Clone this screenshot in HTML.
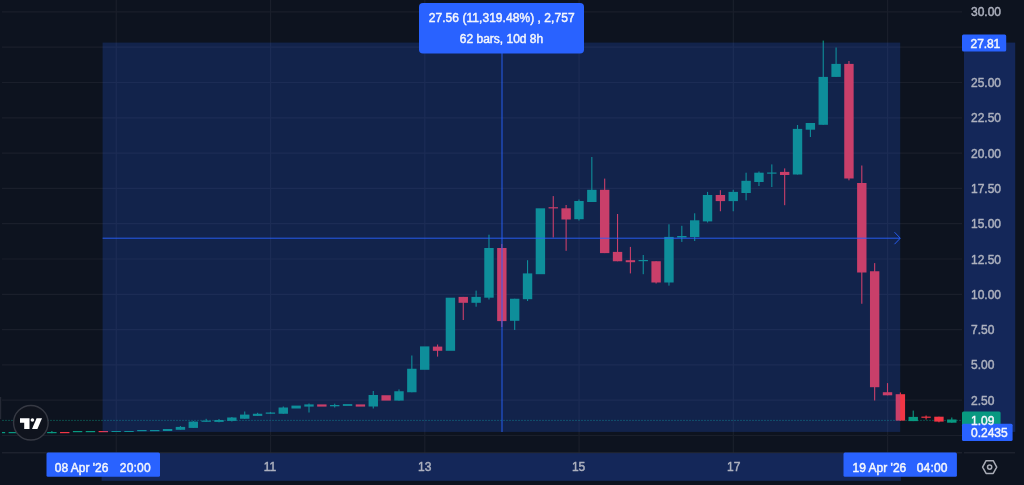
<!DOCTYPE html>
<html lang="en">
<head>
<meta charset="utf-8">
<title>Chart</title>
<style>
html,body{margin:0;padding:0;background:#0d131f;}
body{width:1024px;height:485px;overflow:hidden;position:relative;font-family:"Liberation Sans",sans-serif;}
</style>
</head>
<body>
<svg width="1024" height="485" viewBox="0 0 1024 485" style="position:absolute;left:0;top:0;filter:blur(0.45px)">
<rect width="1024" height="485" fill="#0d131f"/>
<g stroke="#1a1f2b" stroke-width="1.2">
<line x1="2" y1="11.90" x2="962" y2="11.90"/>
<line x1="2" y1="47.20" x2="962" y2="47.20"/>
<line x1="2" y1="82.50" x2="962" y2="82.50"/>
<line x1="2" y1="117.80" x2="962" y2="117.80"/>
<line x1="2" y1="153.10" x2="962" y2="153.10"/>
<line x1="2" y1="188.40" x2="962" y2="188.40"/>
<line x1="2" y1="223.70" x2="962" y2="223.70"/>
<line x1="2" y1="259.00" x2="962" y2="259.00"/>
<line x1="2" y1="294.30" x2="962" y2="294.30"/>
<line x1="2" y1="329.60" x2="962" y2="329.60"/>
<line x1="2" y1="364.90" x2="962" y2="364.90"/>
<line x1="2" y1="400.20" x2="962" y2="400.20"/>
<line x1="2" y1="435.50" x2="962" y2="435.50"/>
<line x1="116.26" y1="0" x2="116.26" y2="453"/>
<line x1="270.53" y1="0" x2="270.53" y2="453"/>
<line x1="424.80" y1="0" x2="424.80" y2="453"/>
<line x1="579.07" y1="0" x2="579.07" y2="453"/>
<line x1="733.34" y1="0" x2="733.34" y2="453"/>
<line x1="887.62" y1="0" x2="887.62" y2="453"/>
</g>
<rect x="0" y="397" width="1.2" height="22" fill="#252935"/>
<line x1="2.5" y1="420.4" x2="962" y2="420.4" stroke="#089981" stroke-width="1" stroke-dasharray="1 2" stroke-opacity="0.85"/>
<clipPath id="cl"><rect x="2" y="0" width="961" height="453"/></clipPath>
<g clip-path="url(#cl)">
<rect x="-4.25" y="432.00" width="9.4" height="1.20" fill="#089981"/>
<rect x="8.61" y="432.00" width="9.4" height="1.20" fill="#089981"/>
<rect x="21.46" y="432.00" width="9.4" height="1.20" fill="#089981"/>
<rect x="34.32" y="432.00" width="9.4" height="1.20" fill="#089981"/>
<rect x="51.33" y="431.00" width="1.1" height="2.20" fill="#089981"/>
<rect x="47.18" y="432.00" width="9.4" height="1.20" fill="#089981"/>
<rect x="60.03" y="432.00" width="9.4" height="1.20" fill="#f23645"/>
<rect x="72.89" y="431.00" width="9.4" height="1.20" fill="#089981"/>
<rect x="85.74" y="431.00" width="9.4" height="1.20" fill="#089981"/>
<rect x="98.60" y="431.00" width="9.4" height="1.20" fill="#f23645"/>
<rect x="111.46" y="431.00" width="9.4" height="1.00" fill="#089981"/>
<rect x="124.31" y="431.00" width="9.4" height="1.00" fill="#089981"/>
<rect x="137.17" y="430.00" width="9.4" height="1.20" fill="#089981"/>
<rect x="150.02" y="430.00" width="9.4" height="1.20" fill="#089981"/>
<rect x="162.88" y="429.00" width="9.4" height="2.00" fill="#089981"/>
<rect x="179.89" y="426.00" width="1.1" height="3.80" fill="#089981"/>
<rect x="175.74" y="426.90" width="9.4" height="2.90" fill="#089981"/>
<rect x="192.74" y="421.00" width="1.1" height="6.90" fill="#089981"/>
<rect x="188.59" y="421.60" width="9.4" height="6.30" fill="#089981"/>
<rect x="205.60" y="418.80" width="1.1" height="3.00" fill="#089981"/>
<rect x="201.45" y="420.60" width="9.4" height="1.20" fill="#089981"/>
<rect x="218.45" y="419.00" width="1.1" height="3.30" fill="#089981"/>
<rect x="214.30" y="420.00" width="9.4" height="1.90" fill="#089981"/>
<rect x="231.31" y="417.00" width="1.1" height="4.50" fill="#089981"/>
<rect x="227.16" y="417.50" width="9.4" height="3.40" fill="#089981"/>
<rect x="244.17" y="411.50" width="1.1" height="7.25" fill="#089981"/>
<rect x="240.02" y="414.60" width="9.4" height="4.15" fill="#089981"/>
<rect x="257.02" y="412.80" width="1.1" height="3.10" fill="#089981"/>
<rect x="252.87" y="413.75" width="9.4" height="2.15" fill="#089981"/>
<rect x="269.88" y="411.90" width="1.1" height="1.85" fill="#089981"/>
<rect x="265.73" y="412.50" width="9.4" height="1.25" fill="#089981"/>
<rect x="282.73" y="406.50" width="1.1" height="7.25" fill="#089981"/>
<rect x="278.58" y="407.50" width="9.4" height="6.25" fill="#089981"/>
<rect x="291.44" y="405.60" width="9.4" height="2.90" fill="#089981"/>
<rect x="308.45" y="403.50" width="1.1" height="9.00" fill="#089981"/>
<rect x="304.30" y="404.40" width="9.4" height="2.20" fill="#089981"/>
<rect x="317.15" y="404.40" width="9.4" height="2.20" fill="#f23645"/>
<rect x="334.16" y="403.70" width="1.1" height="3.80" fill="#089981"/>
<rect x="330.01" y="405.00" width="9.4" height="1.30" fill="#089981"/>
<rect x="342.86" y="404.10" width="9.4" height="1.80" fill="#089981"/>
<rect x="355.72" y="404.40" width="9.4" height="2.20" fill="#f23645"/>
<rect x="372.73" y="391.00" width="1.1" height="17.50" fill="#089981"/>
<rect x="368.58" y="395.00" width="9.4" height="11.50" fill="#089981"/>
<rect x="381.43" y="395.25" width="9.4" height="5.35" fill="#f23645"/>
<rect x="398.44" y="389.40" width="1.1" height="11.20" fill="#089981"/>
<rect x="394.29" y="391.25" width="9.4" height="9.35" fill="#089981"/>
<rect x="411.29" y="355.50" width="1.1" height="36.75" fill="#089981"/>
<rect x="407.14" y="368.75" width="9.4" height="23.50" fill="#089981"/>
<rect x="420.00" y="346.40" width="9.4" height="23.40" fill="#089981"/>
<rect x="437.01" y="344.50" width="1.1" height="12.10" fill="#f23645"/>
<rect x="432.86" y="346.60" width="9.4" height="4.20" fill="#f23645"/>
<rect x="445.71" y="297.70" width="9.4" height="53.10" fill="#089981"/>
<rect x="462.72" y="296.90" width="1.1" height="23.10" fill="#f23645"/>
<rect x="458.57" y="296.90" width="9.4" height="5.90" fill="#f23645"/>
<rect x="475.57" y="290.60" width="1.1" height="16.10" fill="#089981"/>
<rect x="471.42" y="296.90" width="9.4" height="5.90" fill="#089981"/>
<rect x="488.43" y="234.70" width="1.1" height="64.80" fill="#089981"/>
<rect x="484.28" y="248.00" width="9.4" height="49.70" fill="#089981"/>
<rect x="501.29" y="244.00" width="1.1" height="83.00" fill="#f23645"/>
<rect x="497.14" y="248.00" width="9.4" height="73.10" fill="#f23645"/>
<rect x="514.14" y="298.75" width="1.1" height="31.25" fill="#089981"/>
<rect x="509.99" y="298.75" width="9.4" height="22.05" fill="#089981"/>
<rect x="527.00" y="260.20" width="1.1" height="40.80" fill="#089981"/>
<rect x="522.85" y="273.40" width="9.4" height="25.80" fill="#089981"/>
<rect x="535.70" y="208.30" width="9.4" height="65.90" fill="#089981"/>
<rect x="552.71" y="196.10" width="1.1" height="41.40" fill="#f23645"/>
<rect x="548.56" y="207.20" width="9.4" height="1.20" fill="#f23645"/>
<rect x="565.57" y="205.00" width="1.1" height="45.80" fill="#f23645"/>
<rect x="561.42" y="208.30" width="9.4" height="11.20" fill="#f23645"/>
<rect x="578.42" y="199.50" width="1.1" height="21.00" fill="#089981"/>
<rect x="574.27" y="201.00" width="9.4" height="18.20" fill="#089981"/>
<rect x="591.28" y="157.00" width="1.1" height="45.00" fill="#089981"/>
<rect x="587.13" y="189.80" width="9.4" height="12.20" fill="#089981"/>
<rect x="604.13" y="178.60" width="1.1" height="74.50" fill="#f23645"/>
<rect x="599.98" y="189.80" width="9.4" height="63.30" fill="#f23645"/>
<rect x="616.99" y="214.00" width="1.1" height="47.25" fill="#f23645"/>
<rect x="612.84" y="251.90" width="9.4" height="9.35" fill="#f23645"/>
<rect x="629.85" y="246.90" width="1.1" height="26.50" fill="#f23645"/>
<rect x="625.70" y="260.20" width="9.4" height="2.00" fill="#f23645"/>
<rect x="642.70" y="255.00" width="1.1" height="19.20" fill="#089981"/>
<rect x="638.55" y="260.00" width="9.4" height="1.20" fill="#089981"/>
<rect x="655.56" y="261.25" width="1.1" height="22.25" fill="#f23645"/>
<rect x="651.41" y="261.25" width="9.4" height="21.25" fill="#f23645"/>
<rect x="668.41" y="224.30" width="1.1" height="61.30" fill="#089981"/>
<rect x="664.26" y="236.90" width="9.4" height="45.60" fill="#089981"/>
<rect x="681.27" y="225.80" width="1.1" height="16.10" fill="#089981"/>
<rect x="677.12" y="236.00" width="9.4" height="1.50" fill="#089981"/>
<rect x="694.13" y="213.30" width="1.1" height="27.70" fill="#089981"/>
<rect x="689.98" y="220.30" width="9.4" height="16.70" fill="#089981"/>
<rect x="706.98" y="191.90" width="1.1" height="30.60" fill="#089981"/>
<rect x="702.83" y="195.00" width="9.4" height="26.40" fill="#089981"/>
<rect x="719.84" y="190.20" width="1.1" height="21.05" fill="#f23645"/>
<rect x="715.69" y="195.00" width="9.4" height="6.10" fill="#f23645"/>
<rect x="732.69" y="189.80" width="1.1" height="21.45" fill="#089981"/>
<rect x="728.54" y="191.90" width="9.4" height="9.20" fill="#089981"/>
<rect x="745.55" y="172.70" width="1.1" height="27.60" fill="#089981"/>
<rect x="741.40" y="180.80" width="9.4" height="12.20" fill="#089981"/>
<rect x="758.41" y="171.50" width="1.1" height="14.50" fill="#089981"/>
<rect x="754.26" y="172.70" width="9.4" height="9.30" fill="#089981"/>
<rect x="771.26" y="164.40" width="1.1" height="22.60" fill="#089981"/>
<rect x="767.11" y="172.50" width="9.4" height="1.20" fill="#089981"/>
<rect x="784.12" y="168.40" width="1.1" height="36.80" fill="#f23645"/>
<rect x="779.97" y="171.90" width="9.4" height="3.10" fill="#f23645"/>
<rect x="796.97" y="125.00" width="1.1" height="49.50" fill="#089981"/>
<rect x="792.82" y="128.90" width="9.4" height="45.60" fill="#089981"/>
<rect x="809.83" y="123.00" width="1.1" height="14.00" fill="#089981"/>
<rect x="805.68" y="123.00" width="9.4" height="6.70" fill="#089981"/>
<rect x="822.69" y="40.60" width="1.1" height="84.20" fill="#089981"/>
<rect x="818.54" y="76.90" width="9.4" height="47.90" fill="#089981"/>
<rect x="835.54" y="47.50" width="1.1" height="29.40" fill="#089981"/>
<rect x="831.39" y="63.90" width="9.4" height="13.00" fill="#089981"/>
<rect x="848.40" y="61.00" width="1.1" height="119.30" fill="#f23645"/>
<rect x="844.25" y="63.90" width="9.4" height="114.60" fill="#f23645"/>
<rect x="861.25" y="165.50" width="1.1" height="138.25" fill="#f23645"/>
<rect x="857.10" y="183.00" width="9.4" height="89.50" fill="#f23645"/>
<rect x="874.11" y="263.10" width="1.1" height="137.40" fill="#f23645"/>
<rect x="869.96" y="271.25" width="9.4" height="115.95" fill="#f23645"/>
<rect x="886.97" y="383.10" width="1.1" height="12.20" fill="#f23645"/>
<rect x="882.82" y="392.20" width="9.4" height="3.10" fill="#f23645"/>
<rect x="899.82" y="392.50" width="1.1" height="28.10" fill="#f23645"/>
<rect x="895.67" y="394.20" width="9.4" height="26.40" fill="#f23645"/>
<rect x="912.68" y="410.60" width="1.1" height="10.50" fill="#089981"/>
<rect x="908.53" y="416.90" width="9.4" height="4.20" fill="#089981"/>
<rect x="925.53" y="415.50" width="1.1" height="4.00" fill="#f23645"/>
<rect x="921.38" y="416.60" width="9.4" height="1.20" fill="#f23645"/>
<rect x="938.39" y="416.70" width="1.1" height="5.60" fill="#f23645"/>
<rect x="934.24" y="416.70" width="9.4" height="4.90" fill="#f23645"/>
<rect x="951.25" y="417.50" width="1.1" height="5.20" fill="#089981"/>
<rect x="947.10" y="419.50" width="9.4" height="3.20" fill="#089981"/>
</g>
<rect x="102.6" y="42.6" width="797.6" height="389.3" fill="#2962ff" fill-opacity="0.2"/>
<g stroke="#2962ff" stroke-width="1" fill="none" stroke-opacity="0.9">
<line x1="502" y1="53" x2="502" y2="432"/>
<line x1="102.6" y1="238.2" x2="900" y2="238.2"/>
<polyline points="894.5,232.2 900.3,238.2 894.5,244.2"/>
</g>
<line x1="2" y1="452.8" x2="962" y2="452.8" stroke="#262a36" stroke-width="1"/>
<line x1="964" y1="452.8" x2="1015" y2="452.8" stroke="#262a36" stroke-width="1"/>
<rect x="101.6" y="453.2" width="799.3" height="27.6" fill="#2962ff" fill-opacity="0.26"/>
<rect x="964" y="42.6" width="51.2" height="389.3" fill="#2962ff" fill-opacity="0.26"/>
<g font-family="Liberation Sans, sans-serif" font-size="12" fill="#adb1be" stroke="#adb1be" stroke-width="0.45">
<text x="971" y="16.4">30.00</text>
<text x="971" y="87.0">25.00</text>
<text x="971" y="122.3">22.50</text>
<text x="971" y="157.6">20.00</text>
<text x="971" y="192.9">17.50</text>
<text x="971" y="228.2">15.00</text>
<text x="971" y="263.5">12.50</text>
<text x="971" y="298.8">10.00</text>
<text x="971" y="334.1">7.50</text>
<text x="971" y="369.4">5.00</text>
<text x="971" y="404.7">2.50</text>
<text x="270.0" y="471.3" text-anchor="middle">11</text>
<text x="424.7" y="471.3" text-anchor="middle">13</text>
<text x="578.6" y="471.3" text-anchor="middle">15</text>
<text x="733.7" y="471.3" text-anchor="middle">17</text>
</g>
<rect x="962" y="411.5" width="38.6" height="17" rx="1.5" fill="#089981"/>
<rect x="962" y="423.8" width="50.6" height="17.1" rx="1.5" fill="#2962ff"/>
<rect x="962" y="34.6" width="44.2" height="17" rx="1.5" fill="#2962ff"/>
<rect x="46.5" y="452.5" width="113.5" height="24.2" rx="1.5" fill="#2962ff"/>
<rect x="843.5" y="452.5" width="113.4" height="24.2" rx="1.5" fill="#2962ff"/>
<rect x="419" y="3" width="165" height="50.5" rx="4" fill="#2962ff"/>
<g font-family="Liberation Sans, sans-serif" font-size="12" fill="#f4f6fc" stroke="#f4f6fc" stroke-width="0.45">
<text x="970.6" y="47.8" letter-spacing="-0.1">27.81</text>
<text x="971" y="425">1.09</text>
<text x="971" y="436.8">0.2435</text>
<text x="54.8" y="472">08 Apr '26</text>
<text x="119.8" y="472" letter-spacing="0.2">20:00</text>
<text x="852.6" y="472">19 Apr '26</text>
<text x="916.7" y="472" letter-spacing="0.2">04:00</text>
<text x="501.7" y="22.3" text-anchor="middle" letter-spacing="0.05">27.56 (11,319.48%) , 2,757</text>
<text x="501.5" y="43.3" text-anchor="middle">62 bars, 10d 8h</text>
</g>
<circle cx="30.85" cy="422.75" r="17.3" fill="#0f131d" stroke="#363943" stroke-width="1.4"/>
<g fill="#ffffff">
<path d="M20 418.2 h9.5 v10.8 h-5.3 v-6.2 h-4.2 z"/>
<circle cx="32.4" cy="420" r="1.8"/>
<path d="M36.6 418.2 h5.4 l-4.6 10.8 h-5.4 z"/>
</g>
<g fill="none" stroke="#a9acb6" stroke-width="1.5" stroke-linejoin="round">
<path d="M982.6 467.05 L986.1 460.7 H993.2 L996.7 467.05 L993.2 473.4 H986.1 Z"/>
<circle cx="989.65" cy="467.05" r="2.1"/>
</g>
</svg>
</body>
</html>
